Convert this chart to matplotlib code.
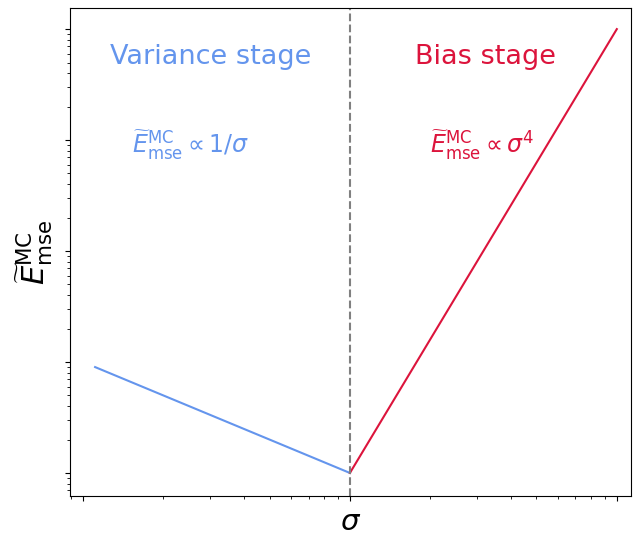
import matplotlib
matplotlib.use('Agg')
import matplotlib.pyplot as plt
import numpy as np

# two regimes of the MC estimator error
var_sigma = [0.111, 1.0]
var_err = [9.0, 1.0]
bias_sigma = [1.0, 10.0]
bias_err = [1.0, 10000.0]

blue = '#6495ED'
red = '#DC143C'

fig = plt.figure(figsize=(6.33, 5.35), dpi=100)
ax = fig.add_axes([0.1106, 0.0729, 0.8862, 0.9121])
ax.plot(var_sigma, var_err, color=blue, lw=1.5)
ax.plot(bias_sigma, bias_err, color=red, lw=1.5)
ax.axvline(1.0, color='gray', linestyle='--', lw=1.5)
ax.set_xscale('log')
ax.set_yscale('log')
ax.set_xlim(0.0894, 11.3)
ax.set_ylim(0.62, 10**4.19)
ax.tick_params(which='both', labelbottom=False, labelleft=False)

ax.text(0.25, 0.9, 'Variance stage', transform=ax.transAxes, color=blue,
        fontsize=19.5, ha='center', va='center')
ax.text(0.74, 0.9, 'Bias stage', transform=ax.transAxes, color=red,
        fontsize=19.5, ha='center', va='center')
ax.text(0.215, 0.72, r'$\widetilde{E}^{\rm MC}_{\rm mse} \propto 1/\sigma$',
        transform=ax.transAxes, color=blue, fontsize=17, ha='center', va='center')
ax.text(0.735, 0.72, r'$\widetilde{E}^{\rm MC}_{\rm mse} \propto \sigma^4$',
        transform=ax.transAxes, color=red, fontsize=17, ha='center', va='center')

ax.set_xlabel(r'$\sigma$', fontsize=21, labelpad=5)
ax.set_ylabel(r'$\widetilde{E}^{\rm MC}_{\rm mse}$', fontsize=22, labelpad=7)
fig.savefig('out.png', dpi=100)
